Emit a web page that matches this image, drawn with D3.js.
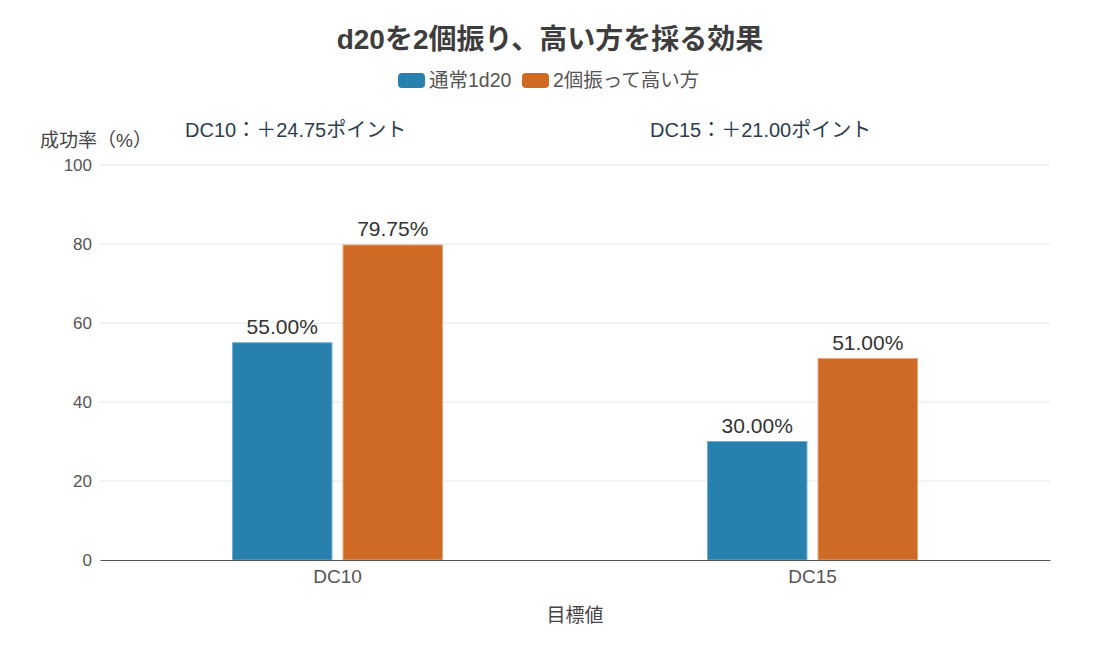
<!DOCTYPE html>
<html>
<head>
<meta charset="utf-8">
<script src="https://cdn.jsdelivr.net/npm/d3@7"></script>
<style>
  body { margin: 0; background: #fff; }
  text { font-family: "Liberation Sans", "Noto Sans CJK JP", sans-serif; }
</style>
</head>
<body>
<div id="chart"></div>
<script>
// data
const categories = ['DC10', 'DC15'];
const seriesNames = ['通常1d20', '2個振って高い方'];
const normalValues = [55.00, 30.00];
const advantageValues = [79.75, 51.00];
const diffLabels = ['DC10：＋24.75ポイント', 'DC15：＋21.00ポイント'];
const yTicks = [0, 20, 40, 60, 80, 100];

const colors = ['#2780ae', '#cf6a25'];
const strokes = ['#6fb0d2', '#e8a57a'];

const width = 1100, height = 650;
const margin = { top: 165, right: 50, bottom: 90, left: 100 };
const innerW = width - margin.left - margin.right;
const innerH = height - margin.top - margin.bottom;

const svg = d3.select('#chart').append('svg')
  .attr('width', width)
  .attr('height', height);

const chart = svg.append('g')
  .attr('transform', `translate(${margin.left}, ${margin.top})`);

// scales
const xScale = d3.scaleBand()
  .domain(categories)
  .range([0, innerW]);

const xInner = d3.scaleBand()
  .domain(seriesNames)
  .range([0, 210])
  .paddingInner(0.1);

const yScale = d3.scaleLinear()
  .domain([0, 100])
  .range([innerH, 0]);

// gridlines
chart.append('g')
  .selectAll('line')
  .data(yTicks.filter(d => d > 0))
  .join('line')
  .attr('x1', 0)
  .attr('x2', innerW)
  .attr('y1', d => yScale(d))
  .attr('y2', d => yScale(d))
  .attr('stroke', '#e3e6ea')
  .attr('stroke-width', 1);

// y axis
const yAxisG = chart.append('g')
  .call(d3.axisLeft(yScale).tickValues(yTicks).tickSize(0).tickPadding(8));
yAxisG.select('.domain').remove();
yAxisG.selectAll('text')
  .attr('font-size', 17)
  .attr('fill', '#555')
  .style('font-family', '"Liberation Sans", sans-serif');

// bars
const rows = categories.map((c, i) => ({
  cat: c,
  values: [normalValues[i], advantageValues[i]]
}));

const groups = chart.selectAll('.group')
  .data(rows)
  .join('g')
  .attr('class', 'group')
  .attr('transform', d => `translate(${xScale(d.cat) + xScale.bandwidth() / 2 - 105}, 0)`);

groups.selectAll('rect')
  .data(d => d.values.map((v, j) => ({ name: seriesNames[j], v, j })))
  .join('rect')
  .attr('x', d => xInner(d.name))
  .attr('width', xInner.bandwidth())
  .attr('y', d => yScale(d.v))
  .attr('height', d => innerH - yScale(d.v))
  .attr('fill', d => colors[d.j])
  .attr('stroke', d => strokes[d.j])
  .attr('stroke-width', 1);

groups.selectAll('.val')
  .data(d => d.values.map((v, j) => ({ name: seriesNames[j], v, j })))
  .join('text')
  .attr('class', 'val')
  .attr('x', d => xInner(d.name) + xInner.bandwidth() / 2)
  .attr('y', d => yScale(d.v) - 9)
  .attr('text-anchor', 'middle')
  .attr('font-size', 21)
  .attr('fill', '#333')
  .text(d => d.v.toFixed(2) + '%');

// x axis
const xAxisG = chart.append('g')
  .attr('transform', `translate(0, ${innerH})`)
  .call(d3.axisBottom(xScale).tickSize(0).tickPadding(10));
xAxisG.select('.domain').attr('stroke', '#555').attr('stroke-width', 1);
xAxisG.selectAll('text')
  .attr('font-size', 19)
  .attr('fill', '#555')
  .style('font-family', '"Liberation Sans", sans-serif');

// difference annotations
const diffX = [185, 650];
svg.selectAll('.diff')
  .data(diffLabels)
  .join('text')
  .attr('class', 'diff')
  .attr('x', (d, i) => diffX[i])
  .attr('y', 137)
  .attr('font-size', 20)
  .attr('fill', '#2c3e50')
  .text(d => d);

// axis titles
svg.append('text')
  .attr('x', 40)
  .attr('y', 147)
  .attr('font-size', 19)
  .attr('fill', '#444')
  .text('成功率（%）');

svg.append('text')
  .attr('x', margin.left + innerW / 2)
  .attr('y', 622)
  .attr('text-anchor', 'middle')
  .attr('font-size', 19)
  .attr('fill', '#444')
  .text('目標値');

// title
svg.append('text')
  .attr('x', width / 2)
  .attr('y', 49)
  .attr('text-anchor', 'middle')
  .attr('font-size', 28)
  .attr('font-weight', 'bold')
  .attr('fill', '#3d3d3d')
  .text('d20を2個振り、高い方を採る効果');

// legend
const legendX = [398, 522];
const legend = svg.append('g');
seriesNames.forEach((name, i) => {
  legend.append('rect')
    .attr('x', legendX[i])
    .attr('y', 73)
    .attr('width', 27)
    .attr('height', 15)
    .attr('rx', 4)
    .attr('fill', colors[i]);
  legend.append('text')
    .attr('x', legendX[i] + 31)
    .attr('y', 87)
    .attr('font-size', 19.5)
    .attr('fill', '#555')
    .text(name);
});
</script>
</body>
</html>
